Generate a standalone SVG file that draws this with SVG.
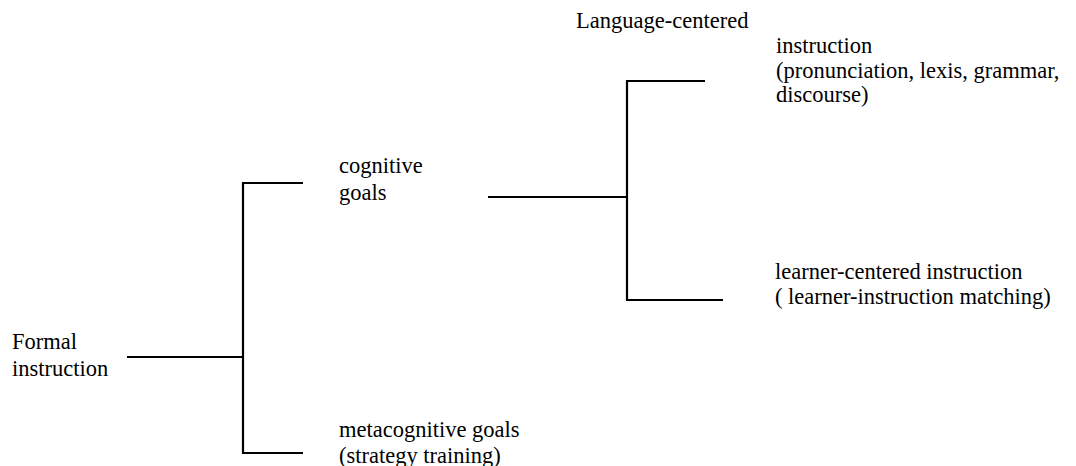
<svg xmlns="http://www.w3.org/2000/svg" width="1076" height="466" viewBox="0 0 1076 466">
<style>
text{font-family:"Liberation Serif","Times New Roman",serif;font-size:22.5px;fill:#000}
.c line{stroke:#000;stroke-width:2.2;fill:none}
</style>
<rect width="1076" height="466" fill="#fff"/>
<g id="formal"><text x="12" y="349">Formal</text><text x="12" y="376">instruction</text></g>
<g id="cognitive"><text x="339" y="173">cognitive</text><text x="339" y="200">goals</text></g>
<g id="metacognitive"><text x="339" y="437">metacognitive goals</text><text x="339" y="463">(strategy training)</text></g>
<g id="language"><text x="576" y="28">Language-centered</text><text x="776" y="53">instruction</text><text x="776" y="78">(pronunciation, lexis, grammar,</text><text x="776" y="102">discourse)</text></g>
<g id="learner"><text x="775" y="279">learner-centered instruction</text><text x="775" y="304">( learner-instruction matching)</text></g>
<g id="connectors" class="c">
<line x1="127" y1="357" x2="243" y2="357"/>
<line x1="243" y1="182" x2="243" y2="454"/>
<line x1="242" y1="183" x2="303" y2="183"/>
<line x1="242" y1="453" x2="303" y2="453"/>
<line x1="488" y1="197" x2="627" y2="197"/>
<line x1="627" y1="80" x2="627" y2="301"/>
<line x1="626" y1="81" x2="705" y2="81"/>
<line x1="626" y1="300" x2="723" y2="300"/>
</g>
</svg>
